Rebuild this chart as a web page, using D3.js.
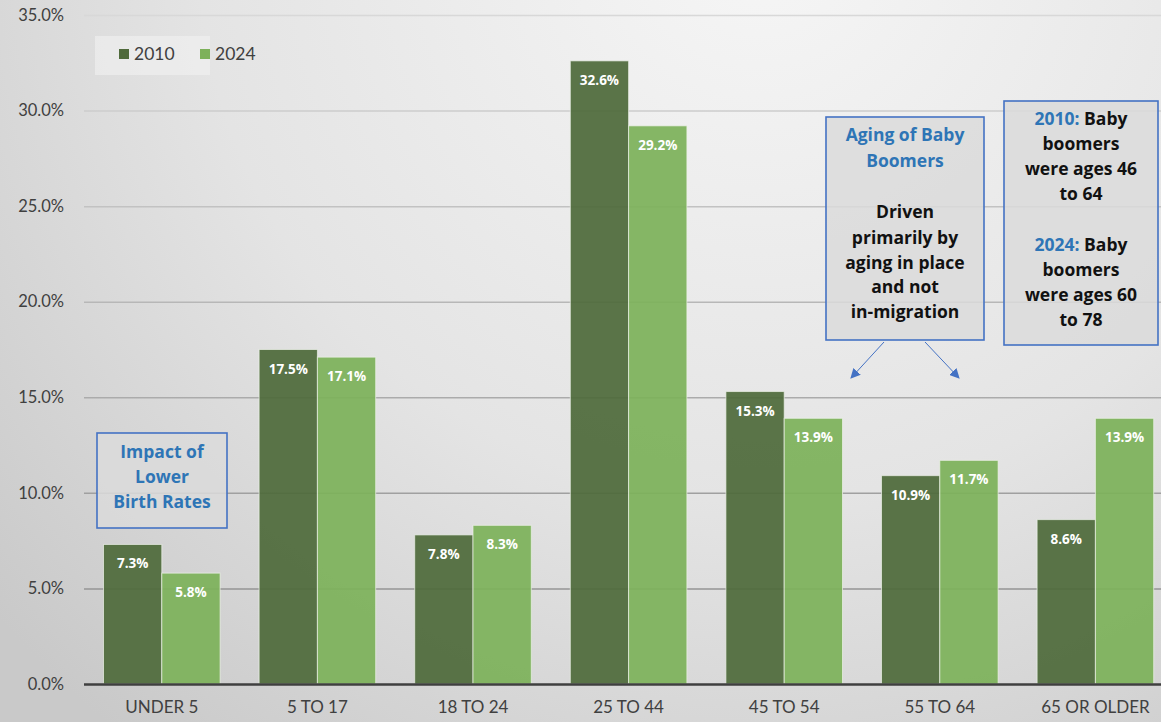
<!DOCTYPE html>
<html>
<head>
<meta charset="utf-8">
<script src="https://cdn.jsdelivr.net/npm/d3@7"></script>
<style>
  html, body { margin: 0; padding: 0; background: #e0e0e0; }
  svg { display: block; font-family: Lato, "Open Sans", sans-serif; }
</style>
</head>
<body>
<svg id="chart" width="1161" height="722"></svg>
<script>
// Age-group shares of population, 2010 vs 2024
const categories = ["UNDER 5", "5 TO 17", "18 TO 24", "25 TO 44", "45 TO 54", "55 TO 64", "65 OR OLDER"];
const seriesNames = ["2010", "2024"];
const values2010 = [7.3, 17.5, 7.8, 32.6, 15.3, 10.9, 8.6];
const values2024 = [5.8, 17.1, 8.3, 29.2, 13.9, 11.7, 13.9];
const yTicks = [0, 5, 10, 15, 20, 25, 30, 35];

const colors = { "2010": "#4f6a3b", "2024": "#7db15a" };

const W = 1161, H = 722;
const margin = { left: 84, top: 15, bottom: 684 };
const svg = d3.select("#chart");

// Background: soft radial shading
const defs = svg.append("defs");
const bg = defs.append("radialGradient").attr("id", "bg")
  .attr("gradientUnits", "userSpaceOnUse")
  .attr("cx", 760).attr("cy", -60).attr("r", 1020);
bg.append("stop").attr("offset", 0).attr("stop-color", "#f6f6f6");
bg.append("stop").attr("offset", 0.55).attr("stop-color", "#e4e4e4");
bg.append("stop").attr("offset", 1).attr("stop-color", "#c9c9c9");
svg.append("rect").attr("width", W).attr("height", H).attr("fill", "url(#bg)");

const marker = defs.append("marker").attr("id", "arrow")
  .attr("viewBox", "0 0 10 10").attr("refX", 9).attr("refY", 5)
  .attr("markerWidth", 10).attr("markerHeight", 10)
  .attr("markerUnits", "userSpaceOnUse").attr("orient", "auto");
marker.append("path").attr("d", "M0,0 L10,5 L0,10 Z").attr("fill", "#4472c4");

// Scales
const x0 = d3.scaleBand().domain(categories).range([margin.left, margin.left + 7 * 155.6]).padding(0);
const x1 = d3.scaleBand().domain(seriesNames).range([19.5, x0.bandwidth() - 19.5]).padding(0);
const y = d3.scaleLinear().domain([0, 35]).range([margin.bottom, margin.top]);

// Gridlines
const gridColor = d3.scaleLinear().domain([0, 35]).range(["#8a8a8a", "#d8d8d8"]);
svg.append("g").selectAll("line").data(yTicks.filter(d => d > 0)).join("line")
  .attr("x1", margin.left).attr("x2", W)
  .attr("y1", d => y(d) + 0.5).attr("y2", d => y(d) + 0.5)
  .attr("stroke", d => gridColor(d)).attr("stroke-width", 1.5);

// Y axis labels
const yAxis = d3.axisLeft(y).tickValues(yTicks).tickFormat(d => d3.format(".1f")(d) + "%").tickSize(0).tickPadding(20);
const gy = svg.append("g").attr("transform", `translate(${margin.left},0)`).call(yAxis);
gy.select(".domain").remove();
gy.selectAll("text").attr("font-size", 16.5).attr("fill", "#404040").attr("font-family", "Lato, sans-serif");

// Bars
const rows = categories.map((c, i) => ({ cat: c, vals: [
  { key: "2010", v: values2010[i] }, { key: "2024", v: values2024[i] } ] }));

const groups = svg.append("g").selectAll("g").data(rows).join("g")
  .attr("transform", d => `translate(${x0(d.cat)},0)`);

groups.selectAll("rect").data(d => d.vals).join("rect")
  .attr("x", d => x1(d.key)).attr("width", x1.bandwidth())
  .attr("y", d => y(d.v)).attr("height", d => y(0) - y(d.v))
  .attr("fill", d => colors[d.key]).attr("fill-opacity", 0.93)
  .attr("stroke", "#eef2ea").attr("stroke-opacity", 0.7).attr("stroke-width", 1);

groups.selectAll("text").data(d => d.vals).join("text")
  .attr("x", d => x1(d.key) + x1.bandwidth() / 2)
  .attr("y", d => y(d.v) + 24)
  .attr("text-anchor", "middle")
  .attr("font-family", "'Open Sans', sans-serif")
  .attr("font-size", 13.5).attr("font-weight", 700).attr("fill", "#ffffff")
  .text(d => d3.format(".1f")(d.v) + "%");

// Baseline
svg.append("line").attr("x1", margin.left).attr("x2", W)
  .attr("y1", y(0) + 0.5).attr("y2", y(0) + 0.5)
  .attr("stroke", "#3f3f3f").attr("stroke-width", 2.5);

// X axis labels
const xAxis = d3.axisBottom(x0).tickSize(0).tickPadding(17);
const gx = svg.append("g").attr("transform", `translate(0,${y(0)})`).call(xAxis);
gx.select(".domain").remove();
gx.selectAll("text").attr("font-size", 17).attr("fill", "#404040").attr("font-family", "Lato, sans-serif");

// Legend
const legend = svg.append("g");
legend.append("rect").attr("x", 95).attr("y", 36).attr("width", 115).attr("height", 39)
  .attr("fill", "#f2f2f2").attr("fill-opacity", 0.6);
seriesNames.forEach((s, i) => {
  const lx = 119 + i * 81;
  legend.append("rect").attr("x", lx).attr("y", 49).attr("width", 10).attr("height", 10).attr("fill", colors[s]);
  legend.append("text").attr("x", lx + 15).attr("y", 60).attr("font-size", 17.5).attr("fill", "#404040").text(s);
});

// Annotation boxes
function box(x, yTop, w, h, lines, cx) {
  const g = svg.append("g");
  g.append("rect").attr("x", x).attr("y", yTop).attr("width", w).attr("height", h)
    .attr("fill", "#dadada").attr("fill-opacity", 0.85)
    .attr("stroke", "#4472c4").attr("stroke-width", 1.6);
  lines.forEach(l => {
    const t = g.append("text").attr("x", cx).attr("y", l.y).attr("text-anchor", "middle")
      .attr("font-family", "'Open Sans', sans-serif")
      .attr("font-size", 17.5).attr("font-weight", 700).attr("fill", "#111111");
    l.parts.forEach(p => t.append("tspan").attr("fill", p.blue ? "#2e75b6" : "#111111").text(p.t));
  });
}

box(97, 433, 130, 95, [
  { y: 458, parts: [{ t: "Impact of", blue: true }] },
  { y: 483, parts: [{ t: "Lower", blue: true }] },
  { y: 508, parts: [{ t: "Birth Rates", blue: true }] }
], 162);

box(826, 117, 158, 223, [
  { y: 141, parts: [{ t: "Aging of Baby", blue: true }] },
  { y: 167, parts: [{ t: "Boomers", blue: true }] },
  { y: 218, parts: [{ t: "Driven" }] },
  { y: 244, parts: [{ t: "primarily by" }] },
  { y: 269, parts: [{ t: "aging in place" }] },
  { y: 293, parts: [{ t: "and not" }] },
  { y: 318, parts: [{ t: "in-migration" }] }
], 905);

box(1004, 101, 154, 244, [
  { y: 125, parts: [{ t: "2010:", blue: true }, { t: " Baby" }] },
  { y: 150, parts: [{ t: "boomers" }] },
  { y: 175, parts: [{ t: "were ages 46" }] },
  { y: 200, parts: [{ t: "to 64" }] },
  { y: 251, parts: [{ t: "2024:", blue: true }, { t: " Baby" }] },
  { y: 276, parts: [{ t: "boomers" }] },
  { y: 301, parts: [{ t: "were ages 60" }] },
  { y: 326, parts: [{ t: "to 78" }] }
], 1081);

// Arrows pointing to the older age groups
[[884, 342, 851, 378], [925, 342, 959, 378]].forEach(a => {
  svg.append("line").attr("x1", a[0]).attr("y1", a[1]).attr("x2", a[2]).attr("y2", a[3])
    .attr("stroke", "#4472c4").attr("stroke-width", 1).attr("marker-end", "url(#arrow)");
});
</script>
</body>
</html>
